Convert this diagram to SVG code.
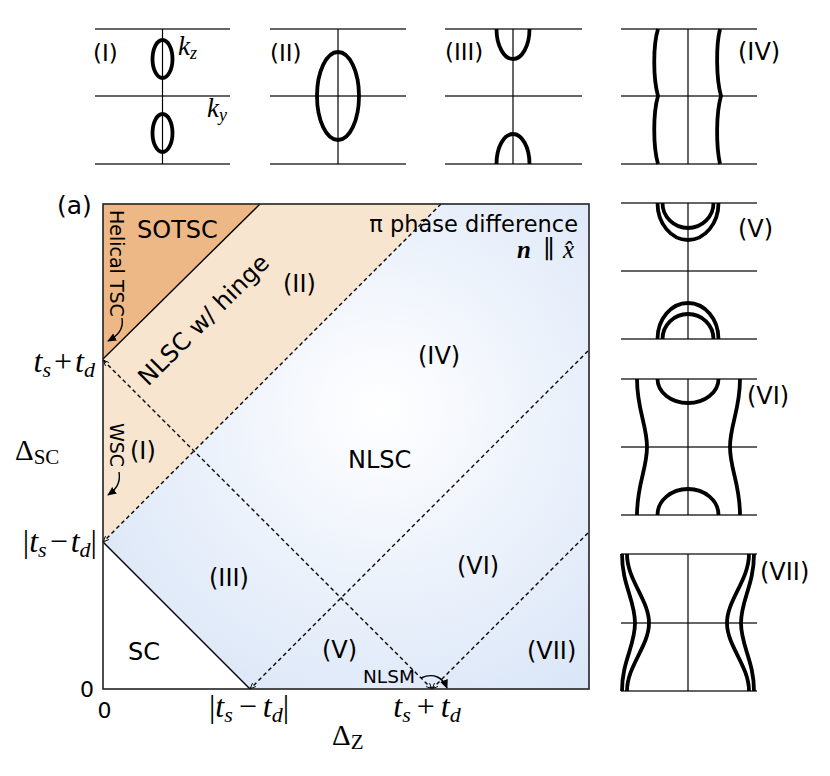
<svg xmlns="http://www.w3.org/2000/svg" width="830" height="776" viewBox="0 0 830 776">
<style>
.sans{font-family:"DejaVu Sans",sans-serif;fill:#000}
.math{font-family:"Liberation Serif","DejaVu Serif",serif;fill:#000}
.it{font-style:italic}
.hl{stroke:#333;stroke-width:1.5;fill:none}
.vl{stroke:#000;stroke-width:1.2;fill:none}
.fs{stroke:#000;stroke-width:3.8;fill:none}
.dash{stroke:#000;stroke-width:1.4;stroke-dasharray:4 3;fill:none}
.solid{stroke:#000;stroke-width:1.4;fill:none}
</style>
<defs>
<radialGradient id="blue" gradientUnits="userSpaceOnUse" cx="380" cy="410" r="400">
<stop offset="0" stop-color="#ffffff"/>
<stop offset="1" stop-color="#d3e1f6"/>
</radialGradient>
<marker id="tip" viewBox="0 0 8 8" refX="8" refY="4" markerWidth="6" markerHeight="6" markerUnits="userSpaceOnUse" orient="auto-start-reverse">
<path d="M0,0.8 L8,4 L0,7.2" fill="none" stroke="#000" stroke-width="1.2"/>
</marker>
<marker id="head" viewBox="0 0 10 10" refX="9" refY="5" markerWidth="9" markerHeight="9" markerUnits="userSpaceOnUse" orient="auto">
<path d="M0,0.5 L10,5 L0,9.5 Z" fill="#000"/>
</marker>
</defs>
<rect width="830" height="776" fill="#fff"/>

<!-- main phase diagram regions -->
<g id="region-nlsc">
<polygon points="103,542 441,204 589,204 589,689 250,689" fill="url(#blue)"/>
</g>
<g id="region-hinge">
<polygon points="103,359 260,204 441,204 103,542" fill="#f8e5d0"/>
</g>
<g id="region-sotsc">
<polygon points="103,204 260,204 103,359" fill="#edb786"/>
</g>
<g id="region-sc">
<polygon points="103,542 103,689 250,689" fill="#fff"/>
</g>

<g id="connectors">
<path class="solid" d="M103,359 L260,204"/>
<path class="solid" d="M103,542 L250,689"/>
<path class="dash" d="M103,360 L432,689" marker-start="url(#tip)" marker-end="url(#tip)"/>
<path class="dash" d="M441,204 L103,542" marker-end="url(#tip)"/>
<path class="dash" d="M588,351 L250,689" marker-end="url(#tip)"/>
<path class="dash" d="M588,533 L432,689" marker-end="url(#tip)"/>
<path d="M122,318 C124,330 117,336 108,341" fill="none" stroke="#000" stroke-width="1.4" marker-end="url(#head)"/>
<path d="M119,472 C121,484 115,490 108,495" fill="none" stroke="#000" stroke-width="1.4" marker-end="url(#head)"/>
<path d="M421,678 C434,672 443,678 447,688" fill="none" stroke="#000" stroke-width="1.4" marker-end="url(#head)"/>
</g>

<rect x="103" y="204" width="486" height="485" fill="none" stroke="#222" stroke-width="1.6"/>

<g id="labels-main">
<text class="sans" x="57" y="214" font-size="25">(a)</text>
<text class="sans" x="137" y="238" font-size="24">SOTSC</text>
<text class="sans" font-size="19" transform="translate(110,210) rotate(90)">Helical TSC</text>
<text class="sans" font-size="19" transform="translate(110,423) rotate(90)">WSC</text>
<text class="sans" x="130" y="459" font-size="24">(I)</text>
<text class="sans" font-size="24" transform="translate(148,387) rotate(-45)">NLSC w/ hinge</text>
<text class="sans" x="283" y="292" font-size="24">(II)</text>
<text class="sans" x="578" y="232" font-size="22.5" text-anchor="end">π phase difference</text>
<text class="math" y="258" font-size="25"><tspan x="517" font-weight="bold" font-style="italic">n</tspan><tspan x="543">∥</tspan><tspan x="563" font-style="italic">x̂</tspan></text>
<text class="sans" x="418" y="364" font-size="24">(IV)</text>
<text class="sans" x="348" y="468" font-size="24">NLSC</text>
<text class="sans" x="209" y="586" font-size="24">(III)</text>
<text class="sans" x="457" y="574" font-size="24">(VI)</text>
<text class="sans" x="322" y="658" font-size="24">(V)</text>
<text class="sans" x="527" y="659" font-size="24">(VII)</text>
<text class="sans" x="128" y="660" font-size="24">SC</text>
<text class="sans" x="363" y="683" font-size="18.5">NLSM</text>
</g>

<g id="axes-labels">
<text class="sans" x="94" y="697" font-size="22" text-anchor="end">0</text>
<text class="sans" x="104.5" y="718" font-size="22" text-anchor="middle">0</text>
<text class="math" x="95" y="372" font-size="32" text-anchor="end"><tspan class="it">t</tspan><tspan class="it" font-size="22" dy="5">s</tspan><tspan dy="-5" dx="3">+</tspan><tspan class="it" dx="3">t</tspan><tspan class="it" font-size="22" dy="5">d</tspan></text>
<text class="math" x="15" y="460" font-size="29">Δ<tspan font-size="21" dy="4">SC</tspan></text>
<text class="math" x="97" y="552" font-size="32" text-anchor="end">|<tspan class="it">t</tspan><tspan class="it" font-size="22" dy="5">s</tspan><tspan dy="-5" dx="3">−</tspan><tspan class="it" dx="3">t</tspan><tspan class="it" font-size="22" dy="5">d</tspan><tspan dy="-5">|</tspan></text>
<text class="math" x="249" y="717" font-size="32" text-anchor="middle">|<tspan class="it">t</tspan><tspan class="it" font-size="22" dy="5">s</tspan><tspan dy="-5" dx="6">−</tspan><tspan class="it" dx="6">t</tspan><tspan class="it" font-size="22" dy="5">d</tspan><tspan dy="-5">|</tspan></text>
<text class="math" x="427" y="717" font-size="32" text-anchor="middle"><tspan class="it">t</tspan><tspan class="it" font-size="22" dy="5">s</tspan><tspan dy="-5" dx="6">+</tspan><tspan class="it" dx="6">t</tspan><tspan class="it" font-size="22" dy="5">d</tspan></text>
<text class="math" x="332" y="745" font-size="29">Δ<tspan font-size="21" dy="4">Z</tspan></text>
</g>

<!-- Inset I -->
<g id="inset-I">
<path class="hl" d="M95,29 H230 M95,96 H230 M95,164 H230"/>
<path class="vl" d="M162.5,29 V164"/>
<ellipse class="fs" cx="162.5" cy="59" rx="10" ry="19"/>
<ellipse class="fs" cx="162.5" cy="133" rx="10" ry="19"/>
<text class="sans" x="93" y="61" font-size="23">(I)</text>
<text class="math it" x="178" y="55" font-size="27">k<tspan font-size="18" dy="4">z</tspan></text>
<text class="math it" x="207" y="117" font-size="27">k<tspan font-size="18" dy="4">y</tspan></text>
</g>

<!-- Inset II -->
<g id="inset-II">
<path class="hl" d="M270,29 H406 M270,96 H406 M270,164 H406"/>
<path class="vl" d="M338,29 V164"/>
<ellipse class="fs" cx="338" cy="96" rx="21" ry="44"/>
<text class="sans" x="270" y="61" font-size="23">(II)</text>
</g>

<!-- Inset III -->
<g id="inset-III">
<path class="hl" d="M445,29 H582 M445,96 H582 M445,164 H582"/>
<path class="vl" d="M513,29 V164"/>
<path class="fs" d="M496.5,29 A16.5 30 0 0 0 529.5,29"/>
<path class="fs" d="M496.5,164 A16.5 30 0 0 1 529.5,164"/>
<text class="sans" x="445" y="60" font-size="23">(III)</text>
</g>

<!-- Inset IV -->
<g id="inset-IV">
<path class="hl" d="M621,29 H757 M621,96 H757 M621,164 H757"/>
<path class="vl" d="M688,29 V164"/>
<path class="fs" d="M658,29 C653,45 653,78 658,96 C653,113 653,146 658,164"/>
<path class="fs" d="M720,29 C716,45 716,78 721,96 C716,113 716,146 720,164"/>
<text class="sans" x="738" y="60" font-size="24">(IV)</text>
</g>

<!-- Inset V -->
<g id="inset-V">
<path class="hl" d="M621,203 H757 M621,271 H757 M621,339 H757"/>
<path class="vl" d="M688,203 V339"/>
<path class="fs" d="M657.5,203 A30.5 37 0 0 0 718.5,203"/>
<path class="fs" d="M662.5,203 A25.5 25 0 0 0 713.5,203"/>
<path class="fs" d="M657.5,339 A30.5 36 0 0 1 718.5,339"/>
<path class="fs" d="M662.5,339 A25.5 25 0 0 1 713.5,339"/>
<text class="sans" x="738" y="237" font-size="24">(V)</text>
</g>

<!-- Inset VI -->
<g id="inset-VI">
<path class="hl" d="M621,379 H757 M621,447 H757 M621,515 H757"/>
<path class="vl" d="M688,379 V515"/>
<path class="fs" d="M657.5,379 A30.5 24 0 0 0 718.5,379"/>
<path class="fs" d="M657.5,515 A30.5 26 0 0 1 718.5,515"/>
<path class="fs" d="M637,379 C637,410 647,425 647,447 C647,469 637,484 637,515"/>
<path class="fs" d="M740,379 C740,410 730,425 730,447 C730,469 740,484 740,515"/>
<text class="sans" x="747" y="404" font-size="24">(VI)</text>
</g>

<!-- Inset VII -->
<g id="inset-VII">
<path class="hl" d="M621,554 H757 M621,623 H757 M621,691 H757"/>
<path class="vl" d="M688,554 V691"/>
<path class="fs" d="M622,554 C622,585 635,600 635,623 C635,646 622,661 622,691"/>
<path class="fs" d="M627,554 C627,580 649,600 649,623 C649,646 627,666 627,691"/>
<path class="fs" d="M754,554 C754,585 741,600 741,623 C741,646 754,661 754,691"/>
<path class="fs" d="M749,554 C749,580 727,600 727,623 C727,646 749,666 749,691"/>
<text class="sans" x="760" y="580" font-size="24">(VII)</text>
</g>
</svg>
